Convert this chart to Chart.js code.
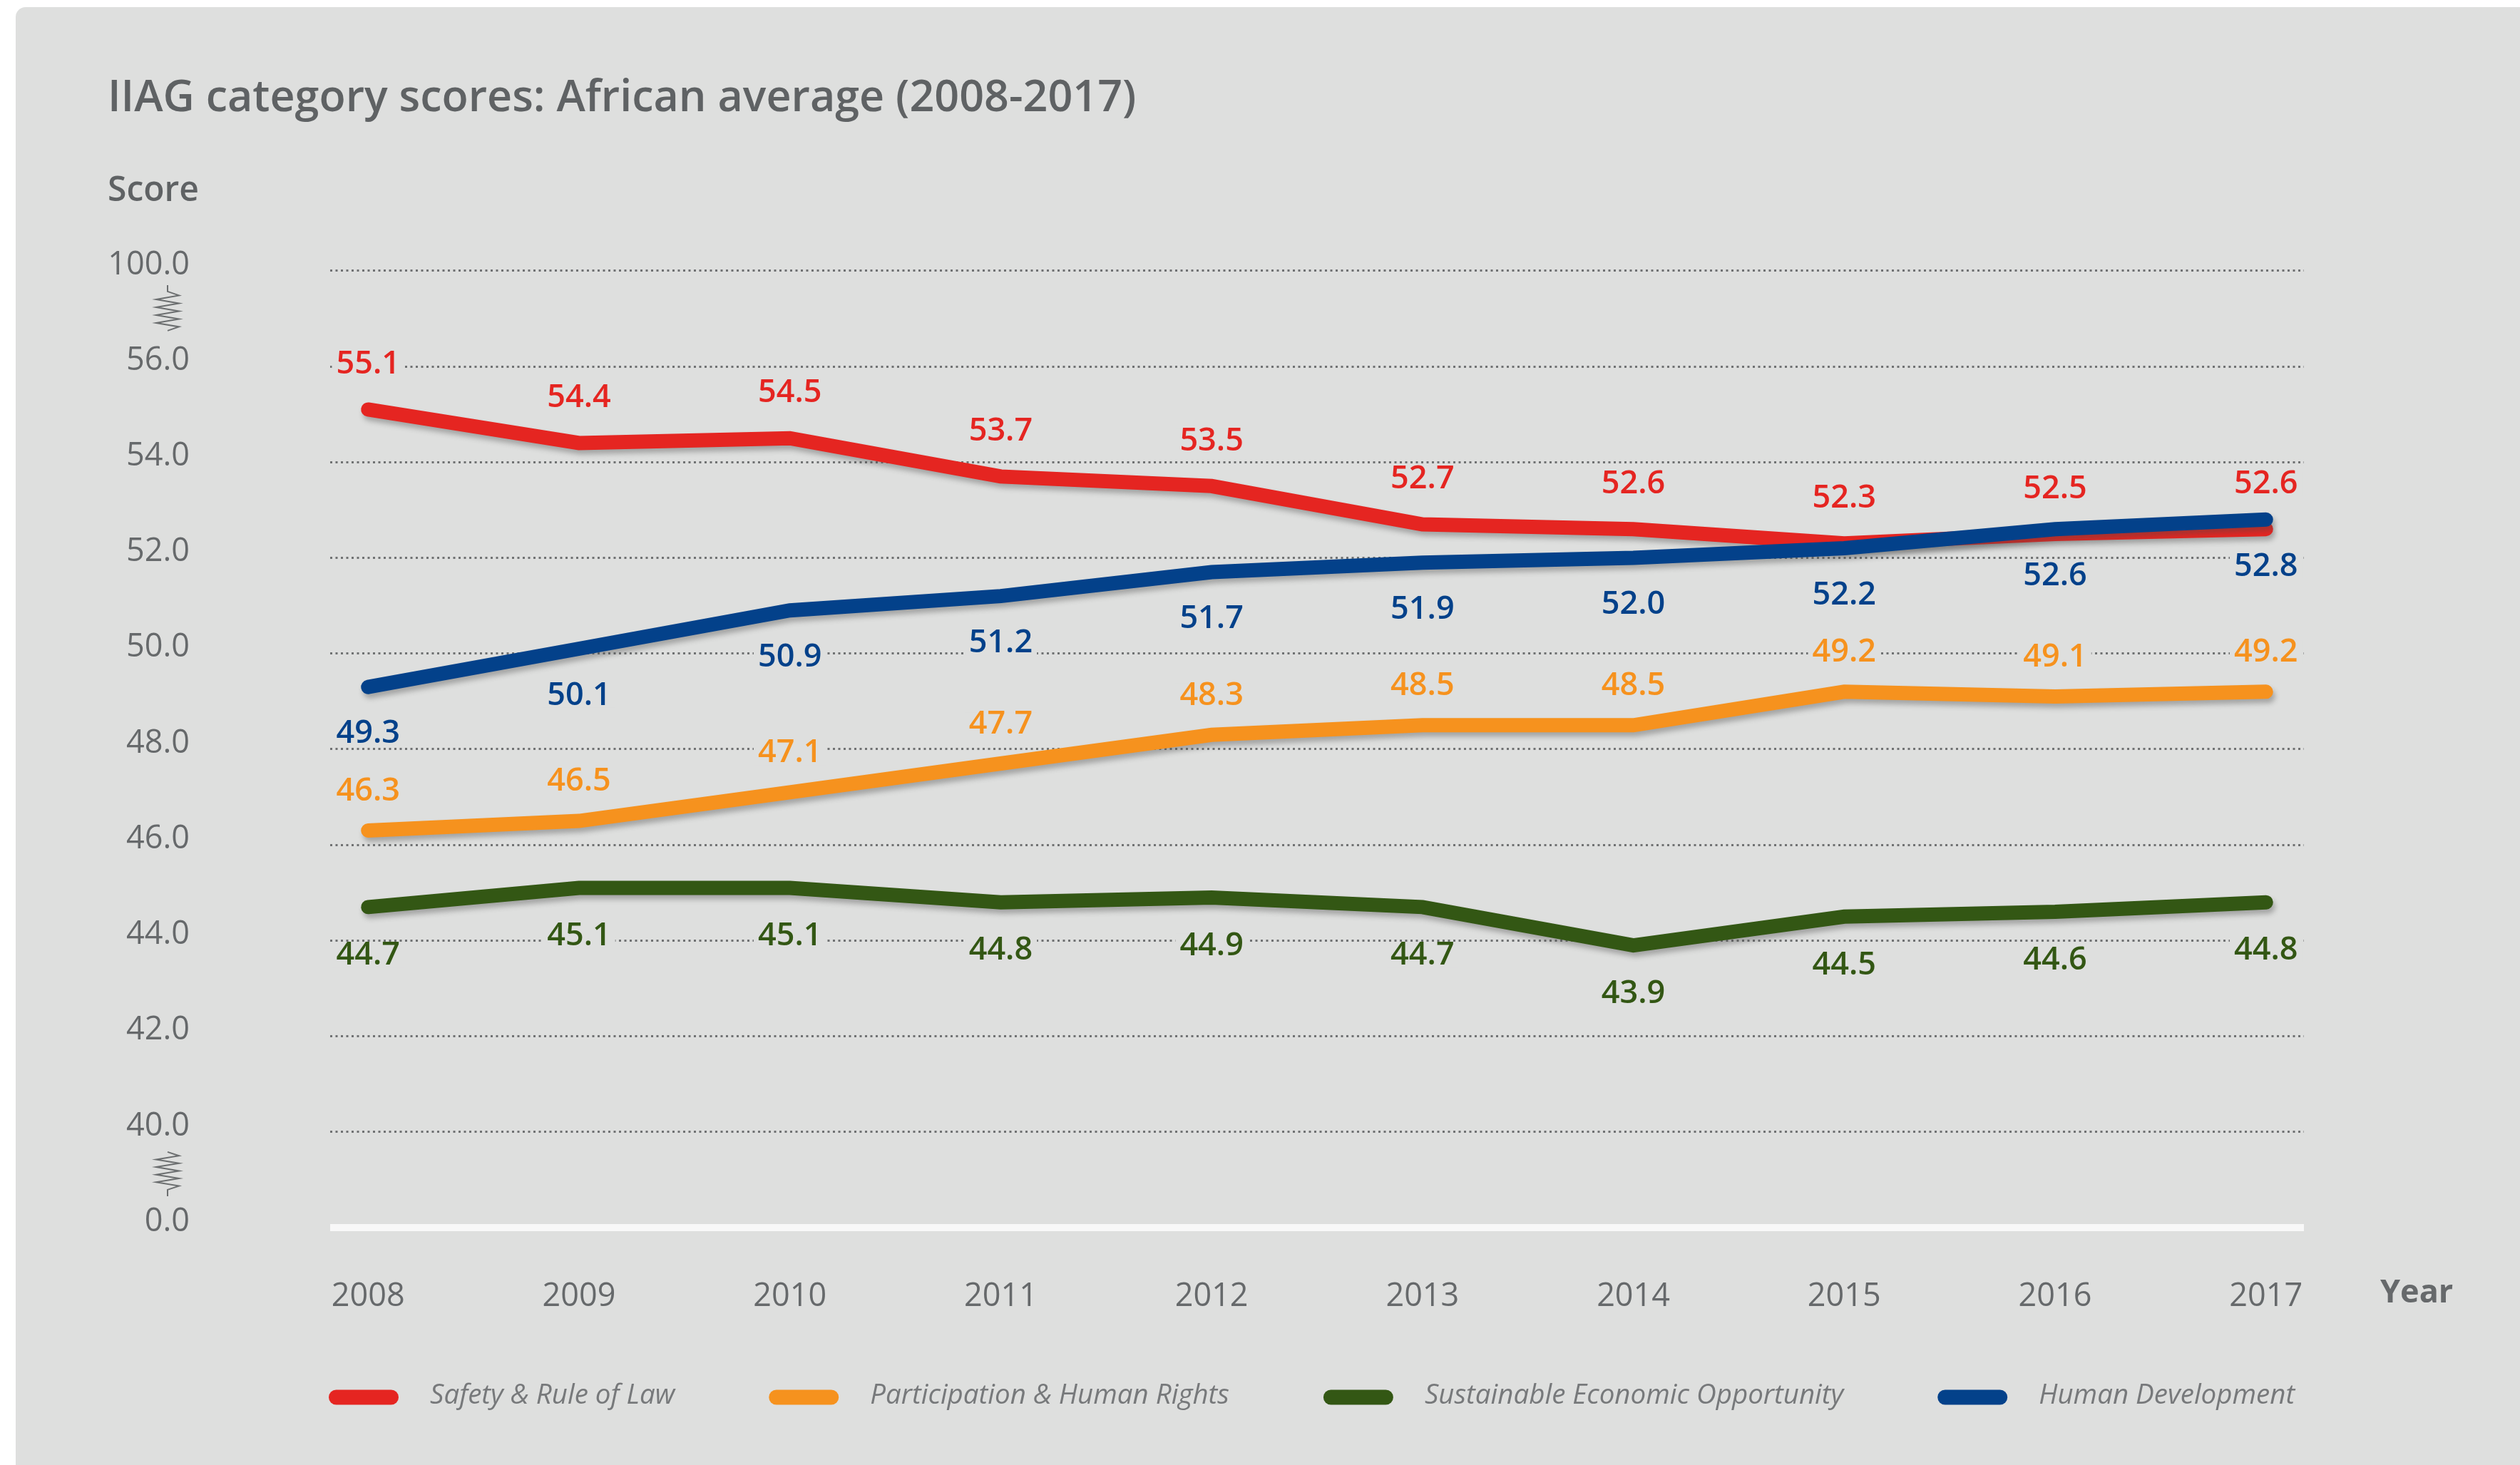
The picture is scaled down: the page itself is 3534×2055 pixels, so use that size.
<!DOCTYPE html>
<html><head><meta charset="utf-8">
<script src="https://cdn.jsdelivr.net/npm/chart.js@4.4.1/dist/chart.umd.min.js"></script>
<style>
html,body{margin:0;padding:0;background:#ffffff;width:3534px;height:2055px;overflow:hidden}
#wrap{position:relative;width:3534px;height:2055px}
#card{position:absolute;left:22px;top:10px;right:0;bottom:0;background:#dedfde;border-top-left-radius:14px}
canvas{position:absolute;left:0;top:0}
</style></head><body>
<div id="wrap"><div id="card"></div><canvas id="c" width="3534" height="2055"></canvas></div>
<script>
// ---- data ----
const years = ['2008','2009','2010','2011','2012','2013','2014','2015','2016','2017'];
const safetyRuleOfLaw = [55.1, 54.4, 54.5, 53.7, 53.5, 52.7, 52.6, 52.3, 52.5, 52.6];
const participationHumanRights = [46.3, 46.5, 47.1, 47.7, 48.3, 48.5, 48.5, 49.2, 49.1, 49.2];
const sustainableEconomicOpportunity = [44.7, 45.1, 45.1, 44.8, 44.9, 44.7, 43.9, 44.5, 44.6, 44.8];
const humanDevelopment = [49.3, 50.1, 50.9, 51.2, 51.7, 51.9, 52.0, 52.2, 52.6, 52.8];
const seriesNames = ['Safety & Rule of Law', 'Participation & Human Rights', 'Sustainable Economic Opportunity', 'Human Development'];
// broken axis: first and last slots stand for 0.0 and 100.0
const yTickLabels = ['0.0','40.0','42.0','44.0','46.0','48.0','50.0','52.0','54.0','56.0','100.0'];
const yAxisStart = 38, yAxisStep = 2;

const BG = '#dedfde';
const TEXT = '#66696b';
const colors = ['#e52521', '#f6921e', '#335714', '#03418a'];
const drawOrder = [1, 2, 3, 0];

function toPoints(arr) { return arr.map((v, i) => ({ x: Number(years[i]), y: v })); }
const seriesValues = [safetyRuleOfLaw, participationHumanRights, sustainableEconomicOpportunity, humanDevelopment];

const lineShadow = {
  id: 'lineShadow',
  beforeDatasetDraw(chart) {
    const ctx = chart.ctx;
    ctx.save();
    ctx.shadowColor = 'rgba(70,70,70,0.38)';
    ctx.shadowBlur = 7;
    ctx.shadowOffsetX = 3;
    ctx.shadowOffsetY = 6;
  },
  afterDatasetDraw(chart) { chart.ctx.restore(); }
};

const valueLabels = {
  id: 'valueLabels',
  _each(chart, opts, fn) {
    const ctx = chart.ctx;
    ctx.font = opts.font;
    chart.data.datasets.forEach((ds, di) => {
      const meta = chart.getDatasetMeta(di);
      meta.data.forEach((pt, i) => {
        const txt = ds.data[i].y.toFixed(1);
        fn(ctx, ds, txt, pt.x, pt.y + opts.offsets[di]);
      });
    });
  },
  beforeDatasetsDraw(chart, args, opts) {
    const ctx = chart.ctx;
    ctx.save();
    this._each(chart, opts, (ctx, ds, txt, x, y) => {
      const w = ctx.measureText(txt).width;
      ctx.fillStyle = BG;
      ctx.fillRect(x - w / 2 - 6, y - 17, w + 12, 34);
    });
    ctx.restore();
  },
  afterDatasetsDraw(chart, args, opts) {
    const ctx = chart.ctx;
    ctx.save();
    ctx.textAlign = 'center';
    ctx.textBaseline = 'middle';
    this._each(chart, opts, (ctx, ds, txt, x, y) => {
      ctx.fillStyle = ds.borderColor;
      ctx.fillText(txt, x, y);
    });
    ctx.restore();
  }
};

function zigzag(ctx, cx, top, bottom, stemTop) {
  const stem = 9, amp = 16, n = 10;
  ctx.beginPath();
  const zTop = stemTop ? top + stem : top;
  const zBot = stemTop ? bottom : bottom - stem;
  if (stemTop) { ctx.moveTo(cx, top); ctx.lineTo(cx, zTop); }
  else { ctx.moveTo(cx, zTop); }
  const h = (zBot - zTop) / n;
  for (let i = 1; i < n; i++) ctx.lineTo(cx + (i % 2 ? amp : -amp), zTop + h * i);
  ctx.lineTo(cx, zBot);
  if (!stemTop) ctx.lineTo(cx, bottom);
  ctx.stroke();
}

const extras = {
  id: 'extras',
  afterDraw(chart) {
    const ctx = chart.ctx, ca = chart.chartArea;
    const ys = chart.scales.y;
    ctx.save();
    // axis break marks
    ctx.strokeStyle = '#6b6e6f';
    ctx.lineWidth = 2;
    const cx = ca.left - 228;
    const t1 = ys.getPixelForValue(58), b1 = ys.getPixelForValue(56);
    const m1 = (t1 + b1) / 2 - 15;
    zigzag(ctx, cx, m1 - 32, m1 + 32, true);
    const t2 = ys.getPixelForValue(40), b2 = ys.getPixelForValue(38);
    const m2 = (t2 + b2) / 2 - 8;
    zigzag(ctx, cx, m2 - 31, m2 + 31, false);
    // "Year"
    ctx.fillStyle = TEXT;
    ctx.font = '700 45px "Open Sans"';
    ctx.textAlign = 'left';
    ctx.textBaseline = 'middle';
    ctx.fillText('Year', ca.right + 107, ca.bottom + 92);
    // legend
    let x = ca.left - 2;
    const ly = 1960;
    ctx.font = 'italic 400 38.5px "Open Sans"';
    chart.data.datasets.forEach(ds => {
      ctx.strokeStyle = ds.borderColor;
      ctx.lineWidth = 21;
      ctx.lineCap = 'round';
      ctx.beginPath();
      ctx.moveTo(x + 10.5, ly);
      ctx.lineTo(x + 87.5, ly);
      ctx.stroke();
      ctx.fillStyle = '#77797b';
      const tx = x + 98 + 44;
      ctx.fillText(ds.label, tx, ly - 2);
      x = tx + ctx.measureText(ds.label).width + 132;
    });
    ctx.restore();
  }
};

function build() {
  Chart.defaults.font.family = "'Open Sans', sans-serif";
  Chart.defaults.color = TEXT;
  const datasets = seriesNames.map((name, i) => ({
    label: name,
    data: toPoints(seriesValues[i]),
    borderColor: colors[i],
    backgroundColor: colors[i],
    borderWidth: 20,
    borderCapStyle: 'round',
    borderJoinStyle: 'miter',
    pointRadius: 0,
    pointHoverRadius: 0,
    tension: 0,
    fill: false,
    order: drawOrder[i]
  }));
  new Chart(document.getElementById('c'), {
    type: 'line',
    data: { datasets },
    plugins: [lineShadow, valueLabels, extras],
    options: {
      responsive: false,
      animation: false,
      events: [],
      layout: { padding: { left: 151, right: 303, top: 0, bottom: 147 } },
      plugins: {
        legend: { display: false },
        tooltip: { enabled: false },
        title: {
          display: true, align: 'start', color: '#5f6264',
          text: 'IIAG category scores: African average (2008-2017)',
          font: { size: 61, weight: '600' },
          padding: { top: 102, bottom: 0 }
        },
        subtitle: {
          display: true, align: 'start', color: '#5f6264',
          text: 'Score',
          font: { size: 48, weight: '600' },
          padding: { top: 64, bottom: 83 }
        },
        valueLabels: { font: '600 45px "Open Sans"', offsets: [-63, -55, 68, 66] }
      },
      scales: {
        x: {
          type: 'linear',
          min: 2007.82, max: 2017.18,
          grid: { display: false },
          border: { display: false },
          afterBuildTicks(scale) { scale.ticks = years.map(y => ({ value: Number(y) })); },
          ticks: {
            autoSkip: false, maxRotation: 0, padding: 62,
            color: TEXT, font: { size: 45 },
            callback: v => String(v)
          }
        },
        y: {
          type: 'linear',
          min: yAxisStart, max: yAxisStart + yAxisStep * (yTickLabels.length - 1),
          afterBuildTicks(scale) { scale.ticks = yTickLabels.map((l, i) => ({ value: yAxisStart + yAxisStep * i })); },
          afterFit(scale) { scale.width = 312; },
          grid: {
            drawTicks: false,
            color: c => c.tick && c.tick.value === yAxisStart ? '#f8f8f8' : '#707273',
            lineWidth: c => c.tick && c.tick.value === yAxisStart ? 10 : 3
          },
          border: { display: false, dash: c => c.tick && c.tick.value === yAxisStart ? [] : [3, 4.5] },
          ticks: {
            autoSkip: false, padding: 197, labelOffset: -8,
            color: TEXT, font: { size: 45 },
            callback: (v, i) => yTickLabels[i]
          }
        }
      }
    }
  });
}

Promise.all([
  document.fonts.load('600 61px "Open Sans"'),
  document.fonts.load('400 45px "Open Sans"'),
  document.fonts.load('700 45px "Open Sans"'),
  document.fonts.load('italic 400 38.5px "Open Sans"')
]).then(build, build);
</script>
</body></html>
